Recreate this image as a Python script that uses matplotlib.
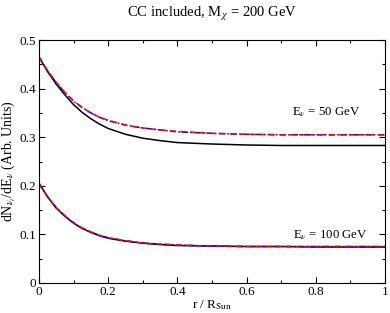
import matplotlib
matplotlib.use("Agg")
import matplotlib.pyplot as plt
from matplotlib.ticker import MultipleLocator

plt.rcParams["font.family"] = ["Liberation Serif", "DejaVu Serif"]
plt.rcParams["mathtext.fontset"] = "stix"

r = [0.0, 0.025, 0.05, 0.075, 0.1, 0.125, 0.15, 0.175, 0.2, 0.25,
     0.3, 0.35, 0.4, 0.5, 0.6, 0.7, 0.8, 0.9, 1.0]

# E = 50 GeV
black_50 = [0.465, 0.435, 0.409, 0.387, 0.367, 0.351, 0.338, 0.327, 0.318, 0.306,
            0.298, 0.293, 0.289, 0.286, 0.284, 0.283, 0.283, 0.283, 0.283]
red_50 = [0.465, 0.437, 0.413, 0.392, 0.375, 0.361, 0.350, 0.341, 0.335, 0.325,
          0.319, 0.315, 0.312, 0.308, 0.306, 0.305, 0.305, 0.305, 0.305]
blue_50 = [0.465, 0.436, 0.412, 0.392, 0.374, 0.361, 0.350, 0.341, 0.334, 0.325,
           0.319, 0.315, 0.311, 0.308, 0.306, 0.305, 0.305, 0.305, 0.305]

# E = 100 GeV
black_100 = [0.205, 0.177, 0.154, 0.137, 0.123, 0.112, 0.104, 0.097, 0.092, 0.086,
             0.082, 0.079, 0.077, 0.076, 0.075, 0.075, 0.074, 0.074, 0.074]
red_100 = [0.205, 0.177, 0.155, 0.138, 0.124, 0.113, 0.105, 0.098, 0.093, 0.087,
           0.082, 0.080, 0.078, 0.076, 0.075, 0.075, 0.075, 0.075, 0.075]
blue_100 = [0.205, 0.177, 0.155, 0.138, 0.124, 0.113, 0.105, 0.098, 0.093, 0.087,
            0.082, 0.080, 0.078, 0.076, 0.075, 0.075, 0.075, 0.075, 0.075]

fig = plt.figure(figsize=(3.9, 3.13), dpi=100)
ax = fig.add_axes([0.1, 0.096, 0.887, 0.776])

for b, rd, bl in [(black_50, red_50, blue_50), (black_100, red_100, blue_100)]:
    ax.plot(r, b, color="black", lw=1.1)
    ax.plot(r, bl, color="blue", lw=1.1, dashes=(4, 1.5, 1, 1.5))
    ax.plot(r, rd, color="red", lw=1.1, dashes=(4, 2.5))

ax.text(0.73, 0.352, r"E$_\nu$ = 50 GeV", fontsize=9.2, va="center")
ax.text(0.734, 0.098, r"E$_\nu$ = 100 GeV", fontsize=9.2, va="center")

ax.set_xlim(0, 1)
ax.set_ylim(0, 0.5)
ax.xaxis.set_minor_locator(MultipleLocator(0.1))
ax.yaxis.set_minor_locator(MultipleLocator(0.05))
ax.set_xticks([0, 0.2, 0.4, 0.6, 0.8, 1.0])
ax.set_xticklabels(["0", "0.2", "0.4", "0.6", "0.8", "1"])
ax.set_yticks([0, 0.1, 0.2, 0.3, 0.4, 0.5])
ax.set_yticklabels(["0", "0.1", "0.2", "0.3", "0.4", "0.5"])
ax.tick_params(which="both", direction="in", top=True, right=True, labelsize=9.5, pad=2)
ax.tick_params(which="major", length=4.5, width=0.8)
ax.tick_params(which="minor", length=2.3, width=0.8)

ax.set_xlabel(r"r / R$_{\mathrm{Sun}}$", fontsize=9.5, labelpad=0)
ax.set_ylabel(r"dN$_{\nu_i}$/dE$_\nu$ (Arb. Units)", fontsize=10, labelpad=2)
ax.set_title(r"CC included, M$_\chi$ = 200 GeV", fontsize=10.5, pad=17)

fig.savefig("out.png", dpi=100)
